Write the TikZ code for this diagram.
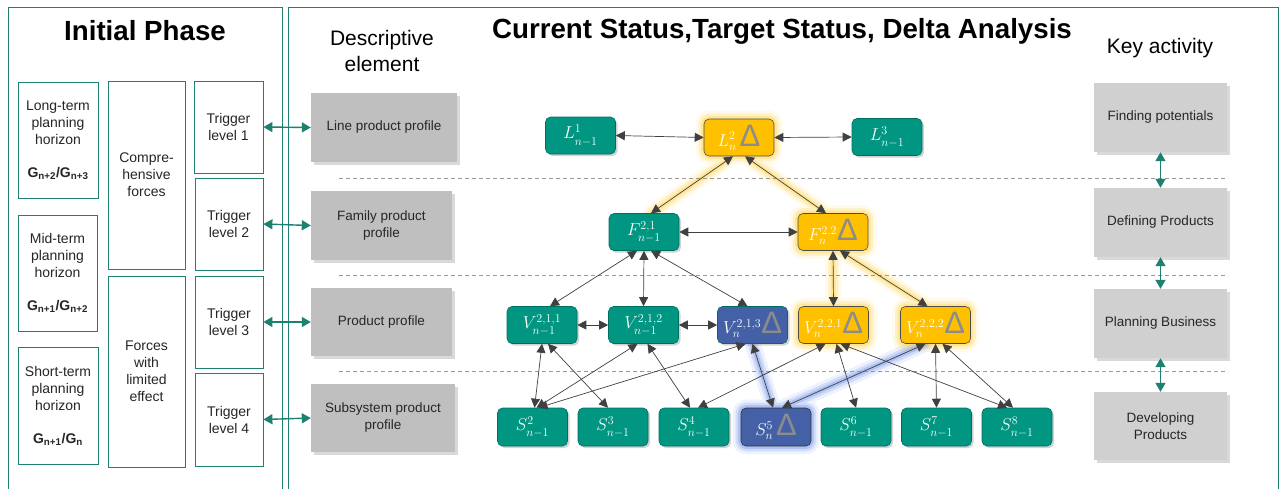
\documentclass[tikz,border=0pt]{standalone}
\usepackage{fontspec}
\setmainfont{Liberation Sans}
\usetikzlibrary{arrows.meta,shadows,backgrounds}

\definecolor{tealfill}{RGB}{0,150,130}
\definecolor{tealline}{RGB}{0,110,95}
\definecolor{frameteal}{RGB}{30,128,110}
\definecolor{ambfill}{RGB}{255,192,0}
\definecolor{bluefill}{RGB}{68,97,168}
\definecolor{descgray}{RGB}{191,191,191}
\definecolor{keygray}{RGB}{208,208,208}
\definecolor{deltagray}{RGB}{140,140,140}
\definecolor{yglow}{RGB}{255,210,70}
\definecolor{bglow}{RGB}{110,145,235}

\newcommand{\deltamark}{{\fontsize{31}{31}\selectfont\color{deltagray}Δ}}
\newcommand{\lowsub}[1]{\lower2pt\hbox{$\scriptstyle #1$}}

\begin{document}
\begin{tikzpicture}[x=1pt,y=-1pt,
	frame/.style={draw=frameteal, line width=0.8pt},
	phasebox/.style={draw=frameteal, line width=0.8pt, fill=white, align=center, inner sep=0pt, text=black!85, font=\fontsize{14}{17}\selectfont},
	descbox/.style={fill=descgray, align=center, inner sep=0pt, minimum width=143, minimum height=68, text=black!85, font=\fontsize{13.5}{17}\selectfont, drop shadow={shadow xshift=3pt, shadow yshift=-3pt, opacity=0.3}},
	keybox/.style={descbox, fill=keygray, minimum width=133, minimum height=69},
	tnode/.style={rounded corners=5pt, minimum width=70, minimum height=37, inner sep=0pt, text=white, font=\fontsize{17}{20}\selectfont},
	cur/.style={tnode, fill=tealfill, draw=tealline, line width=0.6pt, drop shadow={shadow xshift=2pt, shadow yshift=-2pt, opacity=0.35}},
	tgt/.style={tnode, fill=ambfill, draw=black!70, line width=0.6pt},
	chg/.style={tnode, fill=bluefill, draw=black!80, line width=0.6pt},
	link/.style={draw=black!75, line width=0.7pt, {Triangle[length=9pt,width=9pt]}-{Triangle[length=9pt,width=9pt]}},
	tarrow/.style={draw=frameteal, line width=1.4pt, {Triangle[length=9pt,width=10pt]}-{Triangle[length=9pt,width=10pt]}},
	sep/.style={draw=black!40, line width=0.6pt, dash pattern=on 4pt off 3pt}]

	\useasboundingbox (0,0) rectangle (1282,488);

	% frames
	\draw[frame] (8,492) -- (8,7) -- (282,7) -- (282,492);
	\draw[frame] (288,492) -- (288,7) -- (1278,7) -- (1278,492);

	% headings
	\node[font=\fontsize{27.7}{32}\selectfont\bfseries] (hInit) at (145,31) {Initial Phase};
	\node[font=\fontsize{27.7}{32}\selectfont\bfseries] (hMain) at (782,31) {Current Status,Target Status, Delta Analysis};
	\node[align=center, font=\fontsize{21}{26}\selectfont] (hDesc) at (382,51) {Descriptive\\element};
	\node[font=\fontsize{21}{26}\selectfont] (hKey) at (1160,48) {Key activity};

	% level separators
	\draw[sep] (339,178) -- (1228,178);
	\draw[sep] (339,275) -- (1228,275);
	\draw[sep] (339,371) -- (1228,371);

	% initial phase
	\node[phasebox, minimum width=80, minimum height=116] (LT) at (58,140) {Long-term\\planning\\horizon\\[16pt]\textbf{G\textsubscript{n+2}/G\textsubscript{n+3}}};
	\node[phasebox, minimum width=79, minimum height=116] (MT) at (57.5,273) {Mid-term\\planning\\horizon\\[16pt]\textbf{G\textsubscript{n+1}/G\textsubscript{n+2}}};
	\node[phasebox, minimum width=80, minimum height=117] (ST) at (58,405.5) {Short-term\\planning\\horizon\\[16pt]\textbf{G\textsubscript{n+1}/G\textsubscript{n}}};
	\node[phasebox, minimum width=77, minimum height=188] (CF) at (146.5,175) {Compre-\\hensive\\forces};
	\node[phasebox, minimum width=77, minimum height=191] (LF) at (146.5,371.5) {Forces\\with\\limited\\effect};
	\node[phasebox, minimum width=69, minimum height=92] (T1) at (228.5,127) {Trigger\\level 1};
	\node[phasebox, minimum width=68, minimum height=92] (T2) at (229,224) {Trigger\\level 2};
	\node[phasebox, minimum width=68, minimum height=92] (T3) at (229,322) {Trigger\\level 3};
	\node[phasebox, minimum width=68, minimum height=93] (T4) at (229,419.5) {Trigger\\level 4};

	% descriptive elements
	\node[descbox, minimum width=146, minimum height=69] (D1) at (384,127.5) {Line product profile};
	\node[descbox, minimum width=141, minimum height=69] (D2) at (381.5,225.5) {Family product\\profile};
	\node[descbox, minimum width=141] (D3) at (381.5,322) {Product profile};
	\node[descbox, minimum width=144] (D4) at (383,418) {Subsystem product\\profile};

	% key activities
	\node[keybox] (K1) at (1160.5,117.5) {Finding potentials};
	\node[keybox] (K2) at (1160.5,222.5) {Defining Products};
	\node[keybox] (K3) at (1160.5,323.5) {Planning Business};
	\node[keybox, minimum height=68] (K4) at (1160.5,426) {Developing\\Products};

	% status nodes
	\node[cur] (L1) at (580.5,135.5) {$L^{1}_{\lowsub{n-1}}$};
	\node[tgt] (L2) at (739,137.5) {$L^{2}_{n}$\,\deltamark};
	\node[cur] (L3) at (887,137) {$L^{3}_{\lowsub{n-1}}$};

	\node[cur] (F21) at (644,232) {$F^{2,1}_{\lowsub{n-1}}$};
	\node[tgt] (F22) at (833,232) {$F^{2,2}_{n}$\deltamark};

	\node[cur] (V211) at (542,325) {$V^{2,1,1}_{\lowsub{n-1}}$};
	\node[cur] (V212) at (643.5,325) {$V^{2,1,2}_{\lowsub{n-1}}$};
	\node[cur, fill=bluefill] (V213) at (752.5,325) {$V^{2,1,3}_{n}$\deltamark};
	\node[tgt] (V221) at (833.5,325) {$V^{2,2,1}_{n}$\deltamark};
	\node[tgt] (V222) at (935.5,325) {$V^{2,2,2}_{n}$\deltamark};

	\node[cur, minimum height=38] (S2) at (532.5,427) {$S^{2}_{\lowsub{n-1}}$};
	\node[cur, minimum height=38] (S3) at (613,427) {$S^{3}_{\lowsub{n-1}}$};
	\node[cur, minimum height=38] (S4) at (694,427) {$S^{4}_{\lowsub{n-1}}$};
	\node[chg, minimum height=38] (S5) at (776,427) {$S^{5}_{n}$\,\deltamark};
	\node[cur, minimum height=38] (S6) at (856,427) {$S^{6}_{\lowsub{n-1}}$};
	\node[cur, minimum height=38] (S7) at (936.5,427) {$S^{7}_{\lowsub{n-1}}$};
	\node[cur, minimum height=38] (S8) at (1017,427) {$S^{8}_{\lowsub{n-1}}$};

	% trigger and activity arrows
	\draw[tarrow] (T1.east) -- (D1.west);
	\draw[tarrow] (T2.east) -- (D2.west);
	\draw[tarrow] (T3.east) -- (D3.west);
	\draw[tarrow] (T4.east) -- (D4.west);
	\draw[tarrow] (K1.south) -- (K2.north);
	\draw[tarrow] (K2.south) -- (K3.north);
	\draw[tarrow] (K3.south) -- (K4.north);

	% links
	\draw[link] (L1.east) -- (L2.west);
	\draw[link] (L2.east) -- (L3.west);
	\draw[link] ([xshift=-6pt]L2.south) -- ([xshift=7pt]F21.north);
	\draw[link] ([xshift=6pt]L2.south) -- ([xshift=-7pt]F22.north);
	\draw[link] (F21.east) -- (F22.west);
	\draw[link] ([xshift=-7pt]F21.south) -- ([xshift=8pt]V211.north);
	\draw[link] (F21.south) -- (V212.north);
	\draw[link] ([xshift=7pt]F21.south) -- ([xshift=-5pt]V213.north);
	\draw[link] (F22.south) -- (V221.north);
	\draw[link] ([xshift=7pt]F22.south) -- ([xshift=-8pt]V222.north);
	\draw[link] (V211.east) -- (V212.west);
	\draw[link] (V212.east) -- (V213.west);
	\draw[link] (V211.south) -- ([xshift=2pt]S2.north);
	\draw[link] ([xshift=6pt]V211.south) -- ([xshift=-5pt]S3.north);
	\draw[link] ([xshift=-6pt]V212.south) -- ([xshift=4pt]S2.north);
	\draw[link] ([xshift=4pt]V212.south) -- ([xshift=-4pt]S4.north);
	\draw[link] ([xshift=-7pt]V213.south) -- ([xshift=6pt]S2.north);
	\draw[link] (V213.south) -- ([xshift=-3pt]S5.north);
	\draw[link] ([xshift=-8pt]V221.south) -- ([xshift=4pt]S4.north);
	\draw[link] ([xshift=3pt]V221.south) -- (S6.north);
	\draw[link] ([xshift=7pt]V221.south) -- ([xshift=-10pt]S8.north);
	\draw[link] ([xshift=-10pt]V222.south) -- ([xshift=6pt]S5.north);
	\draw[link] (V222.south) -- (S7.north);
	\draw[link] ([xshift=7pt]V222.south) -- ([xshift=-4pt]S8.north);

	% glow of the changed paths
	\begin{pgfonlayer}{background}
		\foreach \w/\o in {16/0.12,10/0.22,5/0.35} {
			\draw[draw=yglow, line width=\w pt, opacity=\o, line cap=round, line join=round]
				([xshift=-6pt]L2.south) -- ([xshift=7pt]F21.north)
				([xshift=6pt]L2.south) -- ([xshift=-7pt]F22.north)
				(F22.south) -- (V221.north)
				([xshift=7pt]F22.south) -- ([xshift=-8pt]V222.north)
				[rounded corners=5pt]
				(L2.north west) rectangle (L2.south east)
				(F22.north west) rectangle (F22.south east)
				(V221.north west) rectangle (V221.south east)
				(V222.north west) rectangle (V222.south east);
			\draw[draw=bglow, line width=\w pt, opacity=\o, line cap=round, line join=round]
				(V213.south) -- ([xshift=-3pt]S5.north)
				([xshift=-10pt]V222.south) -- ([xshift=6pt]S5.north)
				[rounded corners=5pt]
				(S5.north west) rectangle (S5.south east);
		}
	\end{pgfonlayer}
\end{tikzpicture}
\end{document}
